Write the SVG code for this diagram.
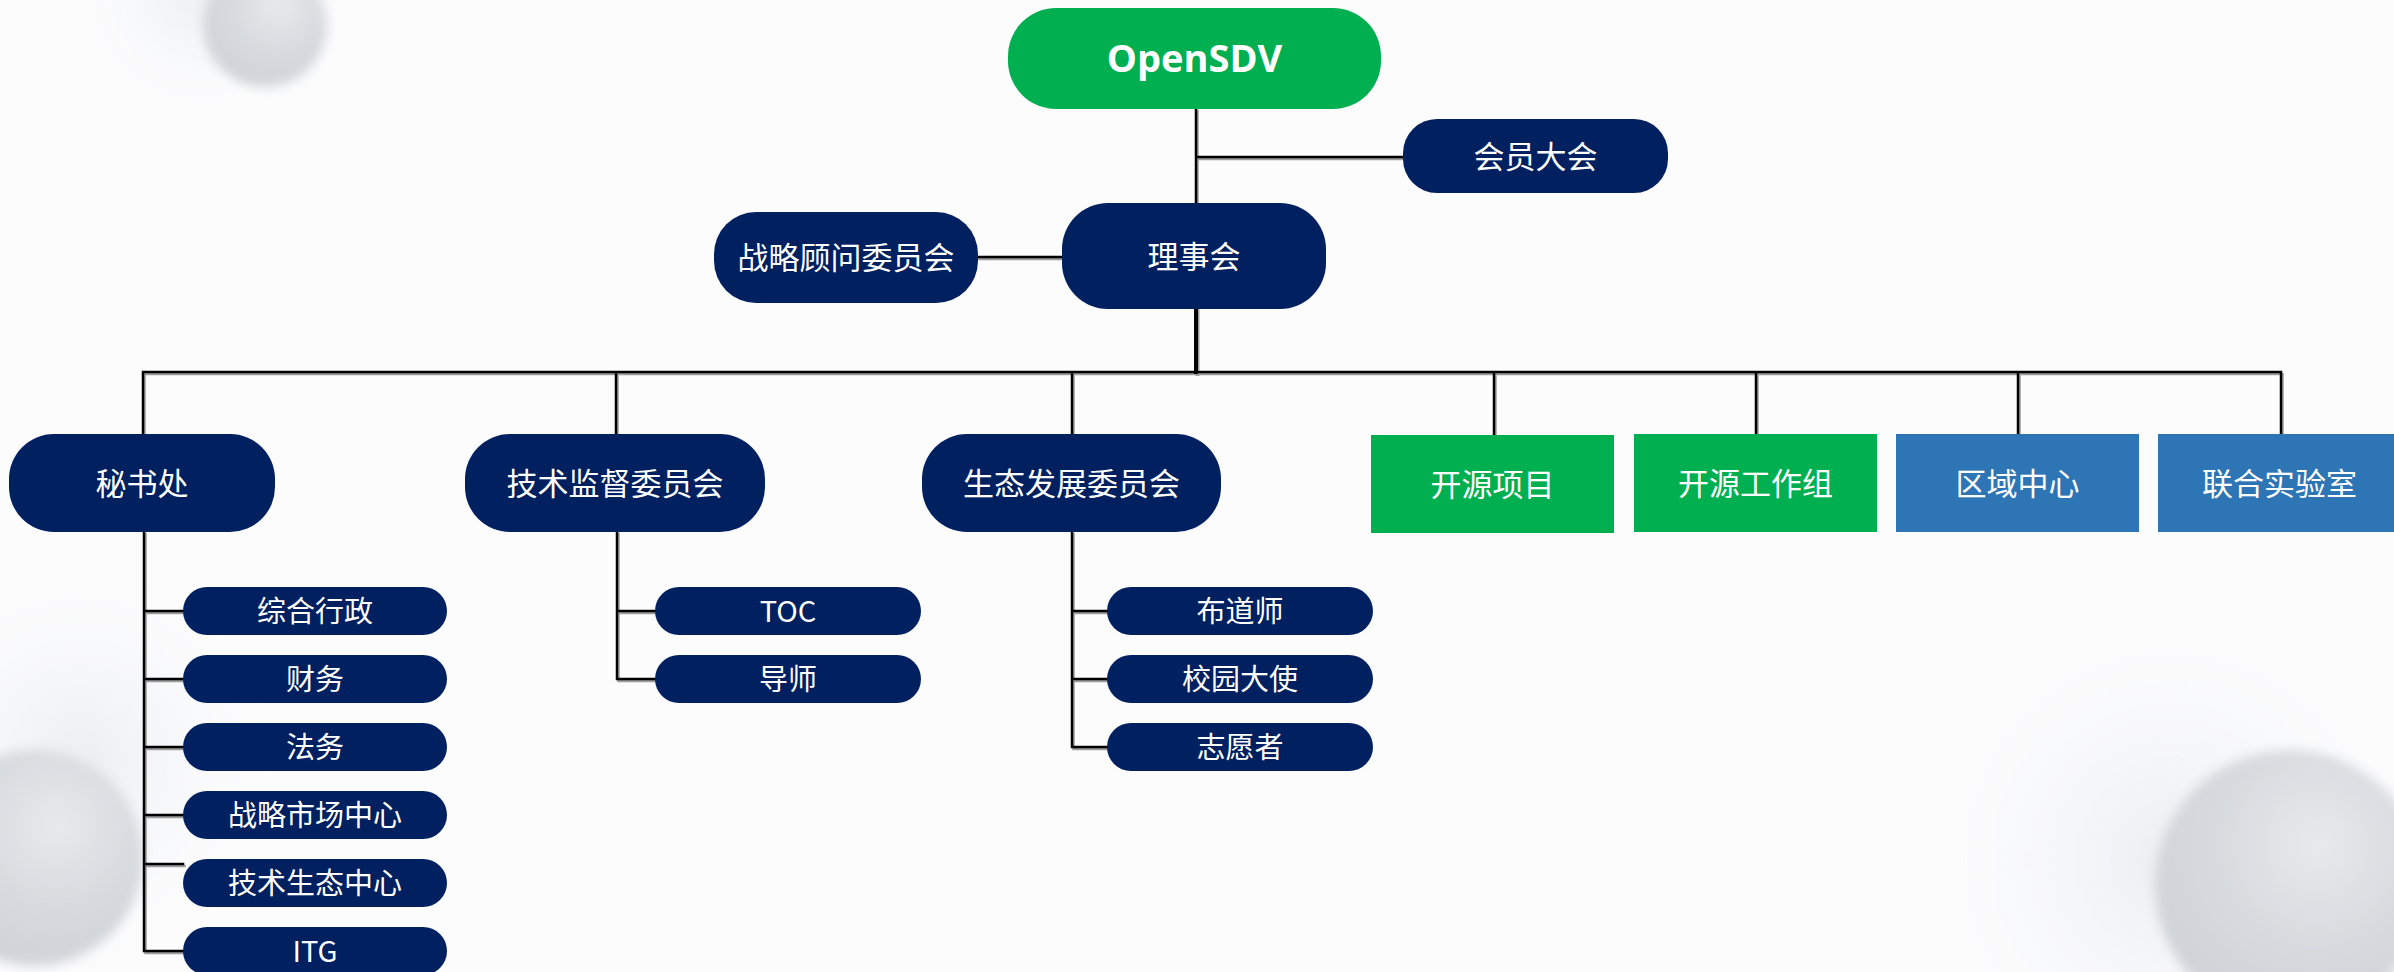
<svg xmlns="http://www.w3.org/2000/svg" width="2394" height="972" viewBox="0 0 2394 972">
<defs>
<style>
.navy{fill:#002060}
.green{fill:#00B050}
.blue{fill:#2E75B6}
.t{fill:#ffffff;font-family:"Noto Sans CJK SC","Microsoft YaHei",sans-serif;text-anchor:middle;dominant-baseline:central}
.m{font-size:31px}
.s{font-size:29px}
.ln{fill:none;stroke:#000;stroke-width:2.5;stroke-linecap:square}
.sh{fill:none;stroke:#9c9c9c;stroke-width:2.5;stroke-linecap:square}
.thick{stroke-width:4}
</style>
<radialGradient id="sph" cx="0.6" cy="0.35" r="0.75">
<stop offset="0" stop-color="#e8e9ec"/>
<stop offset="0.55" stop-color="#d6d9dd"/>
<stop offset="1" stop-color="#cdd1d5"/>
</radialGradient>
<radialGradient id="halo" cx="0.5" cy="0.5" r="0.5">
<stop offset="0" stop-color="#e9ebef" stop-opacity="0.9"/>
<stop offset="1" stop-color="#f4f5f8" stop-opacity="0"/>
</radialGradient>
<filter id="blur" x="-30%" y="-30%" width="160%" height="160%"><feGaussianBlur stdDeviation="6"/></filter>
<filter id="blur2" x="-30%" y="-30%" width="160%" height="160%"><feGaussianBlur stdDeviation="18"/></filter>
</defs>
<rect x="0" y="0" width="2394" height="972" fill="#fcfcfd"/>
<g id="background">
<circle cx="200" cy="-10" r="110" fill="url(#halo)" filter="url(#blur2)"/>
<circle cx="265" cy="25" r="62" fill="url(#sph)" filter="url(#blur)"/>
<circle cx="80" cy="760" r="170" fill="url(#halo)" filter="url(#blur2)"/>
<circle cx="35" cy="858" r="108" fill="url(#sph)" filter="url(#blur)"/>
<circle cx="2170" cy="860" r="220" fill="url(#halo)" filter="url(#blur2)"/>
<circle cx="2290" cy="885" r="135" fill="url(#sph)" filter="url(#blur)"/>
</g>
<g id="connectors">
<defs>
<path id="c-main" d="M1196,109 V203 M1196,157 H1403 M978,257 H1062"/>
<path id="c-bus" d="M143,434 V372 H2281 V434 M616,372 V434 M1072,372 V434 M1494,372 V434 M1756,372 V434 M2018,372 V434"/>
<path id="c-trunk" d="M1196,309 V372"/>
<path id="c-sec" d="M144,532 V951 H183 M144,611 H183 M144,679 H183 M144,747 H183 M144,815 H183 M144,864 H183"/>
<path id="c-tech" d="M617,532 V679 H655 M617,611 H655"/>
<path id="c-eco" d="M1072,532 V747 H1107 M1072,611 H1107 M1072,679 H1107"/>
</defs>
<g transform="translate(1.5,2)">
<use href="#c-main" class="sh"/>
<use href="#c-bus" class="sh"/>
<use href="#c-trunk" class="sh thick"/>
<use href="#c-sec" class="sh"/>
<use href="#c-tech" class="sh"/>
<use href="#c-eco" class="sh"/>
</g>
<use href="#c-main" class="ln"/>
<use href="#c-bus" class="ln"/>
<use href="#c-trunk" class="ln thick"/>
<use href="#c-sec" class="ln"/>
<use href="#c-tech" class="ln"/>
<use href="#c-eco" class="ln"/>
</g>
<g id="opensdv"><rect x="1008" y="8" width="373" height="101" rx="48" class="green"/><text x="1194.5" y="57" fill="#fff" font-family="'Open Sans','Segoe UI',sans-serif" font-weight="bold" font-size="38" text-anchor="middle" dominant-baseline="central">OpenSDV</text></g>
<g id="members"><rect x="1403" y="119" width="265" height="74" rx="34" class="navy"/><text x="1535.5" y="154" class="t m">会员大会</text></g>
<g id="council"><rect x="1062" y="203" width="264" height="106" rx="46" class="navy"/><text x="1194" y="254" class="t m">理事会</text></g>
<g id="advisory"><rect x="714" y="212" width="264" height="91" rx="42" class="navy"/><text x="846" y="255.5" class="t m">战略顾问委员会</text></g>
<g id="secretariat"><rect x="9" y="434" width="266" height="98" rx="45" class="navy"/><text x="142" y="481" class="t m">秘书处</text></g>
<g id="tsc"><rect x="465" y="434" width="300" height="98" rx="45" class="navy"/><text x="615" y="481" class="t m">技术监督委员会</text></g>
<g id="eco"><rect x="922" y="434" width="299" height="98" rx="45" class="navy"/><text x="1071.5" y="481" class="t m">生态发展委员会</text></g>
<g id="projects"><rect x="1371" y="435" width="243" height="98" class="green"/><text x="1492.5" y="482" class="t m">开源项目</text></g>
<g id="workgroups"><rect x="1634" y="434" width="243" height="98" class="green"/><text x="1755.5" y="481" class="t m">开源工作组</text></g>
<g id="regional"><rect x="1896" y="434" width="243" height="98" class="blue"/><text x="2017.5" y="481" class="t m">区域中心</text></g>
<g id="jointlab"><rect x="2158" y="434" width="243" height="98" class="blue"/><text x="2279.5" y="481" class="t m">联合实验室</text></g>
<g id="admin"><rect x="183" y="587" width="264" height="48" rx="24" class="navy"/><text x="315" y="609" class="t s">综合行政</text></g>
<g id="finance"><rect x="183" y="655" width="264" height="48" rx="24" class="navy"/><text x="315" y="677" class="t s">财务</text></g>
<g id="legal"><rect x="183" y="723" width="264" height="48" rx="24" class="navy"/><text x="315" y="745" class="t s">法务</text></g>
<g id="market"><rect x="183" y="791" width="264" height="48" rx="24" class="navy"/><text x="315" y="813" class="t s">战略市场中心</text></g>
<g id="techeco"><rect x="183" y="859" width="264" height="48" rx="24" class="navy"/><text x="315" y="881" class="t s">技术生态中心</text></g>
<g id="itg"><rect x="183" y="927" width="264" height="48" rx="24" class="navy"/><text x="315" y="949" class="t s">ITG</text></g>
<g id="toc"><rect x="655" y="587" width="266" height="48" rx="24" class="navy"/><text x="788" y="609" class="t s">TOC</text></g>
<g id="mentor"><rect x="655" y="655" width="266" height="48" rx="24" class="navy"/><text x="788" y="677" class="t s">导师</text></g>
<g id="evangelist"><rect x="1107" y="587" width="266" height="48" rx="24" class="navy"/><text x="1240" y="609" class="t s">布道师</text></g>
<g id="ambassador"><rect x="1107" y="655" width="266" height="48" rx="24" class="navy"/><text x="1240" y="677" class="t s">校园大使</text></g>
<g id="volunteer"><rect x="1107" y="723" width="266" height="48" rx="24" class="navy"/><text x="1240" y="745" class="t s">志愿者</text></g>
</svg>
